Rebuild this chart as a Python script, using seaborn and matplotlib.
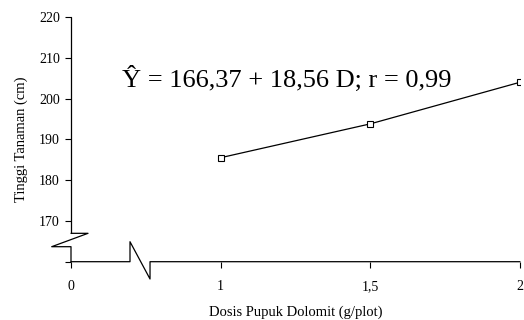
import numpy as np
import matplotlib
matplotlib.use("Agg")
import matplotlib.pyplot as plt
import seaborn as sns
import pandas as pd

# Data
dosis = [1.0, 1.5, 2.0]
tinggi = [185.5, 193.8, 204.0]
x_ticks = [0, 1, 1.5, 2]
x_ticklabels = ["0", "1", "1,5", "2"]
y_ticks = [160, 170, 180, 190, 200, 210, 220]
y_ticklabels = ["", "170", "180", "190", "200", "210", "220"]
equation = "Ŷ = 166,37 + 18,56 D; r = 0,99"
xlabel = "Dosis Pupuk Dolomit (g/plot)"
ylabel = "Tinggi Tanaman (cm)"

sns.set_theme(style="ticks")
plt.rcParams['font.family'] = ['Liberation Serif', 'DejaVu Serif']

fig = plt.figure(figsize=(5.24, 3.2), dpi=100)
ax = fig.add_axes([71/524, 58.3/320, 449/524, 244.7/320])

def fwd(x):
    x = np.asarray(x, dtype=float)
    return np.where(x >= 1, 2 * x - 1, x)

def inv(p):
    p = np.asarray(p, dtype=float)
    return np.where(p >= 1, (p + 1) / 2, p)

ax.set_xscale('function', functions=(fwd, inv))

df = pd.DataFrame({"dosis": dosis, "tinggi": tinggi})
sns.lineplot(data=df, x="dosis", y="tinggi", ax=ax, color="black", linewidth=0.9,
             marker="s", markersize=4.5, markerfacecolor="white",
             markeredgecolor="black", markeredgewidth=0.8)

ax.set_xlim(0, 2)
ax.set_ylim(160, 220)
ax.set_xticks(x_ticks)
ax.set_xticklabels(x_ticklabels, fontsize=10)
ax.set_yticks(y_ticks)
ax.set_yticklabels(y_ticklabels, fontsize=10)
ax.minorticks_off()
ax.tick_params(axis='both', which='major', bottom=True, left=True, direction='out',
               length=4, width=0.8, color='black', labelcolor='black')
ax.tick_params(axis='y', pad=4)
ax.tick_params(axis='x', pad=9)

for s in ax.spines.values():
    s.set_visible(False)

# broken axes
lw = 0.9
ax.plot([0, 0], [1, 0.116], transform=ax.transAxes, color='black', lw=lw, clip_on=False)
ax.plot([0, 0.0379, -0.043, 0, 0], [0.116, 0.116, 0.0613, 0.0613, 0],
        transform=ax.transAxes, color='black', lw=lw, clip_on=False)
ax.plot([0, 0.1314, 0.1314, 0.176, 0.176, 1], [0, 0, 0.0817, -0.0707, 0, 0],
        transform=ax.transAxes, color='black', lw=lw, clip_on=False)

ax.text(float(inv(0.34)), 202.8, equation, fontsize=19, va='baseline', ha='left', color='black')

ax.set_xlabel(xlabel, fontsize=10.5, labelpad=9, color='black')
ax.set_ylabel(ylabel, fontsize=10.5, labelpad=8, color='black')

fig.savefig("out.png", dpi=100, facecolor='white')
